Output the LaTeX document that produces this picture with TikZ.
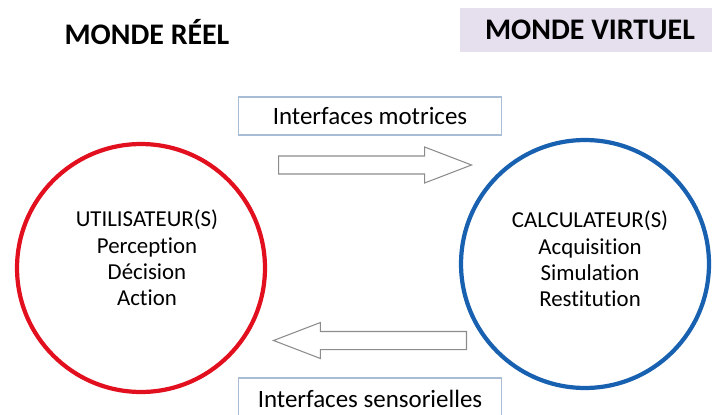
\documentclass[tikz,border=0pt]{standalone}
\usepackage{fontspec}
\setmainfont{Carlito}[Ligatures={NoCommon}]
\usepackage{tikz}
\usetikzlibrary{shapes.arrows}
\usetikzlibrary{positioning}
\definecolor{reelred}{RGB}{226,16,30}
\definecolor{virtblue}{RGB}{24,96,176}
\definecolor{virtfill}{RGB}{230,224,238}
\definecolor{ifborder}{RGB}{168,188,214}
\definecolor{arrowgray}{RGB}{140,140,140}
\tikzset{
    world/.style={
           font=\fontsize{17}{20}\selectfont\bfseries,
           text centered},
    interface/.style={
           rectangle,
           draw=ifborder, line width=0.6pt,
           minimum width=5.26cm,
           minimum height=0.76cm,
           font=\fontsize{14.2}{17}\selectfont},
    agent/.style={
           circle,
           line width=2.4pt,
           minimum size=4.96cm,
           inner sep=0pt},
    role/.style={
           align=center,
           font=\fontsize{13}{15}\selectfont},
    flow/.style={
           single arrow,
           draw=arrowgray, line width=0.6pt,
           fill=white,
           inner xsep=0pt, inner ysep=0.17cm,
           minimum height=3.86cm,
           single arrow head extend=0.18cm,
           single arrow tip angle=42,
           anchor=tail},
}

\begin{document}
\begin{tikzpicture}[x=0.02cm,y=-0.02cm]

 \clip (0,0) rectangle (712,415);

 \node[world] (REEL) at (147,32) {MONDE RÉEL};
 \node[world, fill=virtfill, minimum width=5.2cm, minimum height=0.9cm]
  (VIRTUEL) at (590,30) {MONDE VIRTUEL};

 \node[agent, draw=reelred] (UTIL) at (141,268) {};
 \node[role] (UTILTXT) at (147,258)
 {UTILISATEUR(S)\\ Perception\\ Décision\\ Action};

 \node[agent, draw=virtblue] (CALC) at (585,264) {};
 \node[role] (CALCTXT) at (590,259)
 {CALCULATEUR(S)\\ Acquisition\\ Simulation\\ Restitution};

 \node[interface] (MOTRICES) at (370,116) {Interfaces motrices};
 \node[interface, minimum height=0.84cm] (SENSORIELLES) at (370,399)
 {Interfaces sensorielles};

 \node[flow] (ACTION) at (278,165) {};
 \node[flow, shape border rotate=180] (RETOUR) at (467,340.5) {};

\end{tikzpicture}
\end{document}
